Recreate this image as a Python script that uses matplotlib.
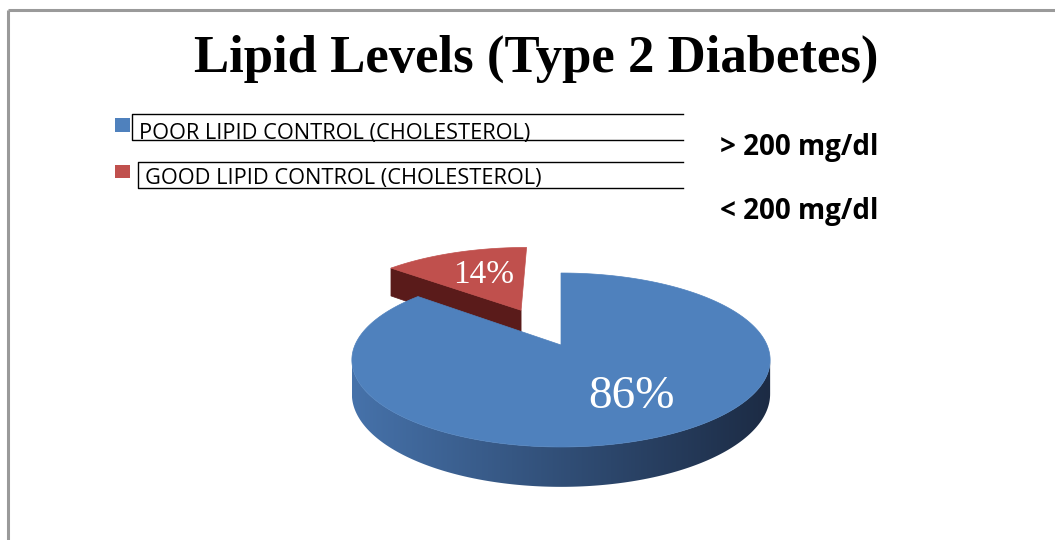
import numpy as np
import matplotlib
matplotlib.use("Agg")
import matplotlib.pyplot as plt
from matplotlib.patches import Polygon, Rectangle
from matplotlib.colors import LinearSegmentedColormap

# chart data
labels = ["POOR LIPID CONTROL (CHOLESTEROL)", "GOOD LIPID CONTROL (CHOLESTEROL)"]
shares = [86, 14]
thresholds = ["> 200 mg/dl", "< 200 mg/dl"]
top_colors = ["#4f81bd", "#c0504d"]
side_colors = [("#4672aa", "#1c2b44"), ("#5a1b1a", "#4a1515")]
explode = [0.0, 0.49]

# perspective disc: screen px, y grows downward
CX, CY = 561, 345
RX, RY, K = 206, 84.4, 0.1724
DEPTH = 33

W, H = 1055, 540
fig = plt.figure(figsize=(W / 100, H / 100), dpi=100)
ax = fig.add_axes([0, 0, 1, 1])
ax.set_xlim(0, W)
ax.set_ylim(H, 0)
ax.axis("off")


def project(X, Y, z=0.0):
    s = 1.0 / (1.0 + K * Y)
    return CX + RX * X * s, CY - RY * Y * s + z * s


def arc(t0, t1, off, n=120):
    t = np.radians(np.linspace(t0, t1, n))
    return np.sin(t) + off[0], np.cos(t) + off[1]


# angles run clockwise from 12 o'clock; slice 0 starts there, slice 1 ends there
fracs = np.array(shares) / sum(shares)
spans = [(0.0, 360 * fracs[0]), (360 * fracs[0], 360.0)]

# exploded (small) slice first: it sits behind the big one
t0, t1 = spans[1]
mid = np.radians((t0 + t1) / 2)
off = (explode[1] * np.sin(mid), explode[1] * np.cos(mid))
ax_, ay_ = arc(t0, t1, off)
# radial face on the near side of the start edge
rim = (np.sin(np.radians(t0)) + off[0], np.cos(np.radians(t0)) + off[1])
p_rim, p_ctr = project(*rim), project(*off)
p_rim_b, p_ctr_b = project(*rim, DEPTH), project(*off, DEPTH)
ax.add_patch(Polygon([p_rim, p_ctr, p_ctr_b, p_rim_b], closed=True,
                     facecolor=side_colors[1][0], edgecolor=side_colors[1][0], lw=0.5))
px, py = project(ax_, ay_)
ax.add_patch(Polygon(np.column_stack([np.r_[p_ctr[0], px], np.r_[p_ctr[1], py]]),
                     closed=True, facecolor=top_colors[1], edgecolor=top_colors[1], lw=0.5))

# big slice: front wall shaded light (left) to dark (right), then the top face
t0, t1 = spans[0]
sil = np.degrees(np.arccos(-K))
tw = np.radians(np.linspace(sil, 360 - sil, 200))
tx, ty = project(np.sin(tw), np.cos(tw))
bx, by = project(np.sin(tw), np.cos(tw), DEPTH)
wall = Polygon(np.column_stack([np.r_[tx, bx[::-1]], np.r_[ty, by[::-1]]]), closed=True,
               facecolor="none", edgecolor="none")
ax.add_patch(wall)
shade = LinearSegmentedColormap.from_list("wall", list(side_colors[0]))
grad = np.linspace(0, 1, 256)[None, :]
img = ax.imshow(grad, cmap=shade, aspect="auto", interpolation="bilinear",
                extent=(tx.min(), tx.max(), by.max() + 1, ty.min() - 1))
img.set_clip_path(wall)
ax.set_xlim(0, W)
ax.set_ylim(H, 0)

ax_, ay_ = arc(t0, t1, (0, 0), n=300)
px, py = project(ax_, ay_)
ax.add_patch(Polygon(np.column_stack([np.r_[CX, px], np.r_[CY, py]]), closed=True,
                     facecolor=top_colors[0], edgecolor=top_colors[0], lw=0.5))

# value labels
ax.text(631, 408, f"{shares[0]}%", ha="center", va="baseline", color="white",
        fontsize=34, family="Liberation Serif")
ax.text(484, 283, f"{shares[1]}%", ha="center", va="baseline", color="white",
        fontsize=24, family="Liberation Serif")

# title
ax.text(536, 72, "Lipid Levels (Type 2 Diabetes)", ha="center", va="baseline",
        fontsize=38, fontweight="bold", family="Liberation Serif", color="black")

# legend: swatch + open-ended box around each label
box_left = [132.3, 138.3]
box_top = [114.3, 162.3]
box_bot = [140.0, 188.3]
swatch_y = [118.3, 165.0]
text_x = [139.3, 145.0]
text_base = [139.3, 184.3]
for i in range(2):
    ax.add_patch(Rectangle((115, swatch_y[i]), 15, 13.4, facecolor=top_colors[i],
                           edgecolor="none"))
    ax.plot([683, box_left[i], box_left[i], 683],
            [box_top[i], box_top[i], box_bot[i], box_bot[i]], color="black", lw=1.0)
    ax.text(text_x[i], text_base[i], labels[i], ha="left", va="baseline",
            fontsize=15.7, family="Open Sans", color="black")

thr_base = [155, 219.5]
for t, yb in zip(thresholds, thr_base):
    ax.text(720, yb, t, ha="left", va="baseline", fontsize=20, fontweight="bold",
            family="Open Sans", color="black")

# frame edges
ax.plot([8, W], [10, 10], color="#9a9a9a", lw=2.2, solid_capstyle="butt")
ax.plot([8, 8], [10, H], color="#9a9a9a", lw=2.2, solid_capstyle="butt")

fig.savefig("out.png", dpi=100, facecolor="white")
